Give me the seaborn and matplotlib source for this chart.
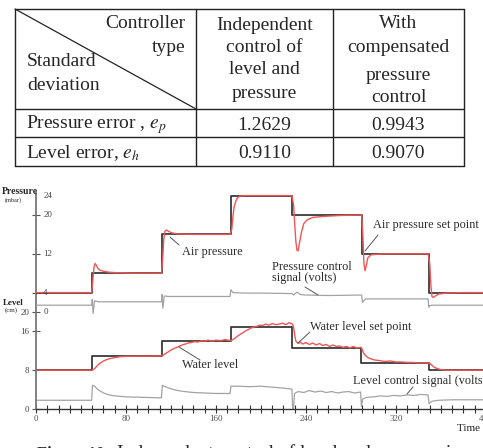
import matplotlib
matplotlib.use("Agg")
import matplotlib.pyplot as plt
import seaborn as sns

# ---- table content ----
row_labels = ["Pressure error , $e_p$", "Level error, $e_h$"]
independent_vals = ["1.2629", "0.9110"]
compensated_vals = ["0.9943", "0.9070"]

# ---- time series, time in s ----
# air pressure set point (mbar), step changes
psp_t = [0, 50, 112, 173, 228, 290, 349, 400]
psp_v = [4, 8, 16, 24, 20, 12, 4, 4]

# measured air pressure (mbar)
ap_t = [0, 30, 49.5, 50.5, 51.5, 52.5, 53.5, 55, 57, 60,
        65, 72, 90, 111.5, 112.5, 113.5, 114.5, 116, 118, 121,
        126, 140, 172.5, 174, 175, 176, 177.5, 179, 181, 185,
        200, 227.5, 229, 230, 231, 232, 233, 234, 236, 238,
        241, 246, 255, 270, 289.5, 290.5, 291.5, 292.5, 293.5, 295,
        298, 310, 348.5, 350, 351, 352, 353, 355, 358, 365,
        380, 400]
ap_v = [4, 4, 4, 6.5, 9.2, 10.0, 9.7, 9.0, 8.6, 8.4,
        8.2, 8.1, 8.0, 8.0, 10.5, 14.8, 16.6, 16.9, 16.6, 16.3,
        16.1, 16.0, 16.0, 17.0, 19.5, 21.5, 22.8, 23.5, 23.9, 24.0,
        24.0, 24.0, 22.0, 18.0, 14.5, 12.7, 12.6, 14.0, 16.5, 18.2,
        19.0, 19.5, 19.7, 19.9, 20.0, 16.0, 10.0, 8.5, 9.5, 11.2,
        11.8, 12.0, 12.0, 10.0, 5.5, 3.2, 3.0, 3.3, 3.7, 3.9,
        4.0, 4.0]

# pressure control signal (volts, drawn on the pressure scale)
pc_t = [0, 49.5, 50, 50.8, 52, 56, 80, 111.5, 112, 112.8,
        114, 118, 150, 172.5, 173.2, 175, 185, 200, 227.5, 229,
        232, 235, 240, 260, 289.5, 290.2, 291, 293, 320, 348.5,
        349.2, 350, 352, 400]
pc_v = [1.4, 1.4, 2.6, -0.3, 2.3, 2.1, 2.1, 2.1, 3.6, 0.8,
        3.3, 3.2, 3.2, 3.2, 4.6, 4.0, 3.9, 3.9, 3.8, 3.5,
        4.1, 3.6, 3.5, 3.4, 3.5, 2.0, 2.2, 2.7, 2.7, 2.7,
        1.0, 1.3, 1.4, 1.4]

# water level set point (cm)
lsp_t = [0, 50, 112, 173, 228, 289, 349, 400]
lsp_v = [8, 11, 14, 17, 12.5, 9.5, 8, 8]

# measured water level (cm)
wl_t = [0, 20, 40, 50, 52, 54, 56, 58, 60, 63, 66, 70, 75, 80, 90, 100, 112,
        113, 115, 117, 119, 121, 123, 125, 127, 129, 131, 133, 135, 138, 141,
        144, 147, 150, 153, 156, 160, 164, 168, 173,
        175, 177, 179, 181, 183, 185, 187, 189, 191, 193, 195, 197, 199, 201,
        204, 207, 210, 213, 216, 219, 222, 225, 228,
        229, 230, 231, 233, 235, 237, 240, 243, 246, 249, 252, 255, 258, 261,
        264, 267, 270, 273, 276, 279, 282, 285, 289,
        290, 291, 293, 295, 298, 301, 305, 310, 315, 320, 325, 330, 335, 340,
        345, 349,
        350, 352, 354, 357, 360, 365, 375, 390, 400]
wl_v = [8.0, 8.0, 8.0, 8.0, 8.3, 8.8, 9.3, 9.6, 9.9, 10.2, 10.4, 10.6, 10.8,
        10.85, 10.9, 10.9, 10.95,
        11.1, 11.4, 11.7, 12.0, 12.3, 12.5, 12.7, 12.9, 13.1, 13.3, 13.4, 13.6,
        13.7, 13.9, 13.8, 14.1, 14.0, 14.2, 14.0, 14.2, 14.1, 14.3, 14.1,
        14.3, 14.6, 15.0, 15.3, 15.6, 15.9, 16.2, 16.4, 16.7, 16.8, 17.0, 17.1,
        17.3, 17.2, 17.5, 17.3, 17.6, 17.4, 17.5, 17.7, 17.4, 17.8, 17.5,
        16.8, 15.2, 14.0, 13.5, 13.8, 13.4, 13.7, 13.3, 13.6, 13.2, 13.5, 13.1,
        13.3, 12.9, 13.2, 12.9, 13.0, 12.7, 12.9, 12.6, 12.9, 12.6, 12.7,
        12.3, 11.6, 11.0, 10.6, 10.3, 10.1, 10.0, 9.8, 9.9, 9.7, 9.7, 9.6, 9.6,
        9.5, 9.5, 9.5,
        9.4, 9.0, 8.6, 8.3, 8.1, 8.0, 8.0, 8.0, 8.0]

# level control signal (volts, drawn on the level scale)
lc_t = [0, 49.5, 50.2, 52, 55, 60, 65, 70, 80, 95,
        111.5, 112.3, 114, 117, 121, 126, 132, 140, 150, 160,
        172.5, 173.3, 180, 190, 200, 210, 220,
        227.5, 228.2, 229, 229.8, 233, 238, 243, 248, 253, 258,
        263, 268, 273, 278, 283, 288.5, 289.3, 290.5, 294, 300,
        306, 312, 318, 324, 330, 336, 342, 348.5, 349.3, 352,
        358, 370, 385, 400]
lc_v = [1.8, 1.8, 4.9, 4.7, 4.0, 3.3, 2.9, 2.7, 2.5, 2.4,
        2.3, 4.9, 4.7, 4.4, 4.1, 3.8, 3.6, 3.4, 3.3, 3.2,
        3.2, 4.7, 4.7, 4.6, 4.7, 4.5, 4.3,
        4.1, 0.0, 0.3, 3.2, 3.6, 3.4, 3.8, 3.5, 3.7, 3.4,
        3.6, 3.3, 3.5, 3.6, 3.3, 3.5, 0.5, 2.1, 2.4, 2.5,
        2.7, 2.6, 2.8, 2.7, 2.9, 2.8, 3.0, 2.9, 1.1, 1.6,
        1.8, 1.9, 1.9, 1.9]

time_ticks = list(range(0, 401, 10))
time_labels = [str(t) if t % 80 == 0 else "" for t in time_ticks]
level_ticks = [0, 8, 16, 20]
pressure_ticks = [4, 12, 20]
pressure_labels = [24, 20, 12, 4, 0]

sns.set_theme(style="white")
plt.rcParams["font.family"] = ["Liberation Serif", "DejaVu Serif"]
plt.rcParams["mathtext.fontset"] = "stix"

W, H = 483, 448
fig = plt.figure(figsize=(W / 100, H / 100), dpi=100)


def px_box(x0, y0, x1, y1):
    return [x0 / W, 1 - y1 / H, (x1 - x0) / W, (y1 - y0) / H]


# chart: level axis at bottom, pressure axis stacked above it on the same spine
x0_px, x1_px = 36, 486
y0_px, ppu = 409, 4.85
top = 44.5
box = px_box(x0_px, y0_px - top * ppu, x1_px, y0_px)
ax = fig.add_axes(box)
axp = fig.add_axes(box)
ax.set_xlim(0, 400)
axp.set_xlim(0, 400)
ax.set_ylim(0, top)
axp.set_ylim(-20, top - 20)
axp.axis("off")

SET = "#3a3a3a"
RED = "#f25555"
SIG = "#a3a3a3"

sns.lineplot(x=pc_t, y=pc_v, ax=axp, color=SIG, linewidth=0.9, estimator=None)
sns.lineplot(x=psp_t, y=psp_v, ax=axp, color=SET, linewidth=1.3,
             drawstyle="steps-post", estimator=None)
sns.lineplot(x=ap_t, y=ap_v, ax=axp, color=RED, linewidth=1.0, estimator=None)

sns.lineplot(x=lc_t, y=lc_v, ax=ax, color=SIG, linewidth=0.9, estimator=None)
sns.lineplot(x=lsp_t, y=lsp_v, ax=ax, color=SET, linewidth=1.3,
             drawstyle="steps-post", estimator=None)
sns.lineplot(x=wl_t, y=wl_v, ax=ax, color=RED, linewidth=1.0, estimator=None)

sns.despine(ax=ax)
ax.spines["left"].set_color("#777777")
ax.spines["left"].set_linewidth(1.3)
ax.spines["bottom"].set_color("#333333")
ax.spines["bottom"].set_linewidth(1.0)
ax.set_xticks(time_ticks)
ax.set_xticklabels(time_labels)
ax.set_yticks(level_ticks + [20 + p for p in pressure_ticks])
ax.set_yticklabels([str(v) for v in level_ticks] + [""] * len(pressure_ticks))
ax.tick_params(axis="x", bottom=True, direction="inout", length=6, width=0.8,
               color="#333333", labelsize=6.5, labelcolor="#555555", pad=1)
ax.tick_params(axis="y", left=True, direction="inout", length=6, width=0.8,
               color="#555555", labelsize=6.5, labelcolor="#444444", pad=2)
ax.set_xlabel("")
ax.set_ylabel("")

ytr = axp.get_yaxis_transform()
for p in pressure_labels:
    axp.text(0.016, p, str(p), transform=ytr, ha="left", va="center",
             fontsize=6.5, color="#444444")

# overlay in pixel coordinates for the table and text
ov = fig.add_axes([0, 0, 1, 1])
ov.set_xlim(0, W)
ov.set_ylim(H, 0)
ov.axis("off")

cols = [15, 196, 333, 464]
rows = [9, 109, 137, 166]
for x in cols:
    ov.plot([x, x], [rows[0], rows[-1]], color="#222222", lw=1.0)
for y in rows:
    ov.plot([cols[0], cols[-1]], [y, y], color="#222222", lw=1.0)
ov.plot([cols[0], cols[1]], [rows[0], rows[1]], color="#222222", lw=0.9)

tfs = 14
ov.text(185, 23, "Controller", ha="right", va="center", fontsize=tfs)
ov.text(185, 48, "type", ha="right", va="center", fontsize=tfs)
ov.text(27, 61, "Standard", ha="left", va="center", fontsize=tfs)
ov.text(27, 85, "deviation", ha="left", va="center", fontsize=tfs)
for txt, y in zip(["Independent", "control of", "level and", "pressure"], [25, 47, 70, 93]):
    ov.text(264.5, y, txt, ha="center", va="center", fontsize=tfs)
for txt, y in zip(["With", "compensated", "pressure", "control"], [24, 47, 75, 97]):
    ov.text(398.5, y, txt, ha="center", va="center", fontsize=tfs)
for lab, a, b, y in zip(row_labels, independent_vals, compensated_vals, [125, 153]):
    ov.text(26, y, lab, ha="left", va="center", fontsize=tfs)
    ov.text(264.5, y, a, ha="center", va="center", fontsize=tfs)
    ov.text(398.5, y, b, ha="center", va="center", fontsize=tfs)

# axis titles
ov.text(2, 192, "Pressure", ha="left", va="center", fontsize=7, fontweight="bold")
ov.text(5, 200, "(mbar)", ha="left", va="center", fontsize=4.5)
ov.text(3, 303, "Level", ha="left", va="center", fontsize=6.5, fontweight="bold")
ov.text(5, 310, "(cm)", ha="left", va="center", fontsize=5)
ov.text(457, 428, "Time (s)", ha="left", va="center", fontsize=8, color="#222222")

# annotations with leader lines
afs = 8.8
AC = "#2a2a2a"
notes = [
    ("Air pressure", 182, 252, (170, 237), (179, 245)),
    ("Air pressure set point", 373, 225, (378, 235), (365, 251)),
    ("Water level", 182, 365, (179, 347), (200, 360)),
    ("Water level set point", 310, 327, (310, 332), (298, 343)),
    ("Level control signal (volts)", 353, 381, (413, 387), (407, 394)),
]
for txt, x, y, a, b in notes:
    ov.text(x, y, txt, ha="left", va="center", fontsize=afs, color=AC)
    ov.plot([a[0], b[0]], [a[1], b[1]], color="#555555", lw=0.7)
ov.text(272, 267, "Pressure control", ha="left", va="center", fontsize=afs, color=AC)
ov.text(272, 278, "signal (volts)", ha="left", va="center", fontsize=afs, color=AC)
ov.plot([305, 318], [287, 295], color="#555555", lw=0.7)

# caption (cut by the lower edge)
ov.text(37, 458, "Figure 10.", ha="left", va="baseline", fontsize=12, fontweight="bold")
ov.text(117, 458, "Independent control of level and pressure in", ha="left",
        va="baseline", fontsize=14)

fig.savefig("out.png", dpi=100)
